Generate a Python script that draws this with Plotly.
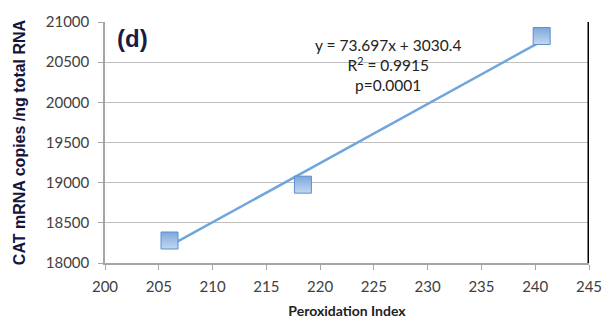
import plotly.graph_objects as go

# Data
peroxidation_index = [206.0, 218.4, 240.6]
cat_copies = [18280, 18975, 20825]
slope = 73.697
intercept = 3030.4
x_ticks = [200, 205, 210, 215, 220, 225, 230, 235, 240, 245]
y_ticks = [18000, 18500, 19000, 19500, 20000, 20500, 21000]
annotation_lines = ["y = 73.697x + 3030.4", "R<sup>2</sup> = 0.9915", "p=0.0001"]

fit_x = [min(peroxidation_index), max(peroxidation_index)]
fit_y = [slope * v + intercept for v in fit_x]

fig = go.Figure()
fig.add_trace(go.Scatter(
    x=fit_x, y=fit_y, mode="lines",
    line=dict(color="#6fa6dc", width=2.5),
    hoverinfo="skip", showlegend=False,
))
fig.add_trace(go.Scatter(
    x=peroxidation_index, y=cat_copies, mode="markers",
    marker=dict(symbol="square", size=17, color="#7fa8dc",
                gradient=dict(type="vertical", color="#c3d7f0"),
                line=dict(color="#5b8fcf", width=1)),
    showlegend=False,
))

fig.update_layout(
    width=614, height=329,
    margin=dict(l=105, r=24, t=19, b=64),
    paper_bgcolor="white", plot_bgcolor="white",
    font=dict(family="Lato, Open Sans, sans-serif", color="#404040"),
    xaxis=dict(
        range=[200, 245], tickvals=x_ticks, showgrid=False, tickformat="d",
        showline=True, linecolor="#a6a6a6", linewidth=1.5,
        ticks="outside", ticklen=5, tickcolor="#a6a6a6", ticklabelstandoff=4,
        tickfont=dict(size=15, color="#404040"),
        title=dict(text="<b>Peroxidation Index</b>", font=dict(size=14, color="#222222"), standoff=12),
        zeroline=False,
    ),
    yaxis=dict(
        range=[18000, 21000], tickvals=y_ticks, showgrid=True, tickformat="d",
        gridcolor="#bfbfbf", gridwidth=1.2,
        showline=True, linecolor="#a6a6a6", linewidth=1.5,
        ticks="outside", ticklen=5, tickcolor="#a6a6a6", ticklabelstandoff=6,
        tickfont=dict(size=15, color="#404040"),
        title=dict(text="<b>CAT mRNA copies /ng total RNA</b>",
                   font=dict(family="Liberation Sans, Arial, sans-serif", size=16, color="#14143c"),
                   standoff=16),
        zeroline=False,
    ),
    shapes=[dict(type="line", xref="x", yref="paper", x0=245, x1=245, y0=0, y1=1,
                 line=dict(color="black", width=3))],
    annotations=[
        dict(x=0.02, y=0.995, xref="paper", yref="paper", xanchor="left", yanchor="top",
             text="<b>(d)</b>", showarrow=False,
             font=dict(family="Liberation Sans, Arial, sans-serif", size=24, color="#1a1a4a")),
        dict(x=226.3, y=20460, xref="x", yref="y", xanchor="center", yanchor="middle",
             text="<br>".join(annotation_lines), showarrow=False,
             font=dict(size=15.5, color="#222222"), align="center"),
    ],
)

fig.write_html("out.html")
